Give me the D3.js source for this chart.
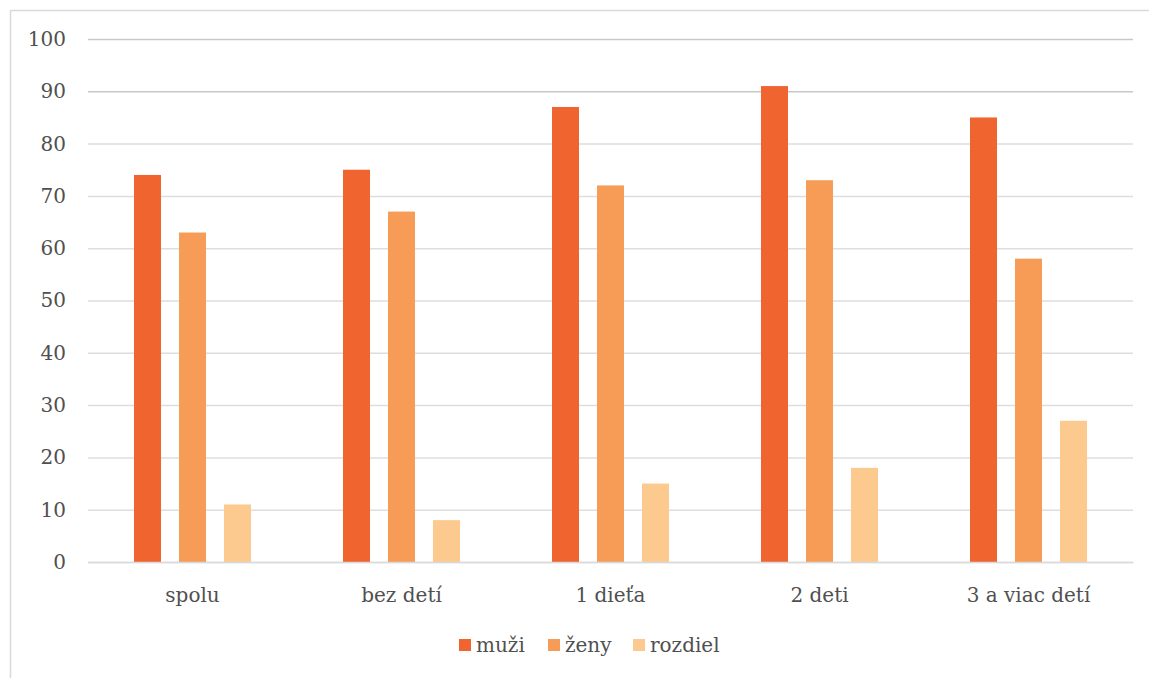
<!DOCTYPE html>
<html>
<head>
<meta charset="utf-8">
<script src="https://cdn.jsdelivr.net/npm/d3@7"></script>
<style>
  html, body { margin: 0; padding: 0; background: #fff; }
  svg { display: block; }
</style>
</head>
<body>
<svg id="chart" width="1149" height="678"></svg>
<script>
// Categories and series
const categories = ["spolu", "bez detí", "1 dieťa", "2 deti", "3 a viac detí"];
const seriesNames = ["muži", "ženy", "rozdiel"];
const muzi = [74, 75, 87, 91, 85];
const zeny = [63, 67, 72, 73, 58];
const rozdiel = [11, 8, 15, 18, 27];
const yTicks = [0, 10, 20, 30, 40, 50, 60, 70, 80, 90, 100];
const colors = ["#F0652F", "#F79C57", "#FCC98E"];

const seriesValues = [muzi, zeny, rozdiel];
const rows = categories.map((c, i) => ({
  category: c,
  values: seriesNames.map((s, j) => ({ series: s, value: seriesValues[j][i] }))
}));

const svg = d3.select("#chart");
const W = 1149, H = 678;
const plot = { left: 88, right: 1133, top: 39, bottom: 562 };
const fontFamily = "'DejaVu Serif', serif";

// outer frame
svg.append("rect")
  .attr("x", 10.5).attr("y", 10.5)
  .attr("width", W + 20).attr("height", H + 20)
  .attr("fill", "none").attr("stroke", "#d9d9d9").attr("stroke-width", 1.5);

const x = d3.scaleBand().domain(categories).range([plot.left, plot.right]);
const inner = d3.scaleBand().domain(seriesNames)
  .range([x.bandwidth() / 2 - 58.5, x.bandwidth() / 2 + 58.5])
  .paddingInner(0.4).paddingOuter(0);
const y = d3.scaleLinear().domain([0, 100]).range([plot.bottom, plot.top]);
const color = d3.scaleOrdinal().domain(seriesNames).range(colors);

// gridlines + y axis labels
const yAxis = d3.axisLeft(y).tickValues(yTicks).tickSize(-(plot.right - plot.left)).tickPadding(22);
const gy = svg.append("g").attr("transform", `translate(${plot.left},0)`).call(yAxis);
gy.select(".domain").remove();
gy.selectAll(".tick line").attr("stroke", d => d >= 90 ? "#c8c8c8" : "#dedede").attr("stroke-width", 1.5);
gy.selectAll(".tick text")
  .attr("fill", "#505050")
  .style("font-family", fontFamily)
  .style("font-size", "20px");

// bars
const groups = svg.append("g").selectAll("g")
  .data(rows).join("g")
  .attr("transform", d => `translate(${x(d.category)},0)`);
groups.selectAll("rect")
  .data(d => d.values).join("rect")
  .attr("x", d => inner(d.series))
  .attr("width", inner.bandwidth())
  .attr("y", d => y(d.value))
  .attr("height", d => y(0) - y(d.value))
  .attr("fill", d => color(d.series));

// x axis labels
const xAxis = d3.axisBottom(x).tickSize(0).tickPadding(26);
const gx = svg.append("g").attr("transform", `translate(0,${plot.bottom})`).call(xAxis);
gx.select(".domain").attr("stroke", "#d9d9d9").attr("stroke-width", 1.5);
gx.selectAll(".tick text")
  .attr("fill", "#505050")
  .style("font-family", fontFamily)
  .style("font-size", "20px");

// legend
const legendItems = [
  { name: "muži", x: 459 },
  { name: "ženy", x: 548 },
  { name: "rozdiel", x: 633 }
];
const lg = svg.append("g").selectAll("g").data(legendItems).join("g")
  .attr("transform", d => `translate(${d.x},645)`);
lg.append("rect").attr("x", 0).attr("y", -6).attr("width", 12).attr("height", 12)
  .attr("fill", d => color(d.name));
lg.append("text").attr("x", 17).attr("y", 0).attr("dy", "0.35em")
  .attr("fill", "#505050")
  .style("font-family", fontFamily)
  .style("font-size", "20px")
  .text(d => d.name);
</script>
</body>
</html>
